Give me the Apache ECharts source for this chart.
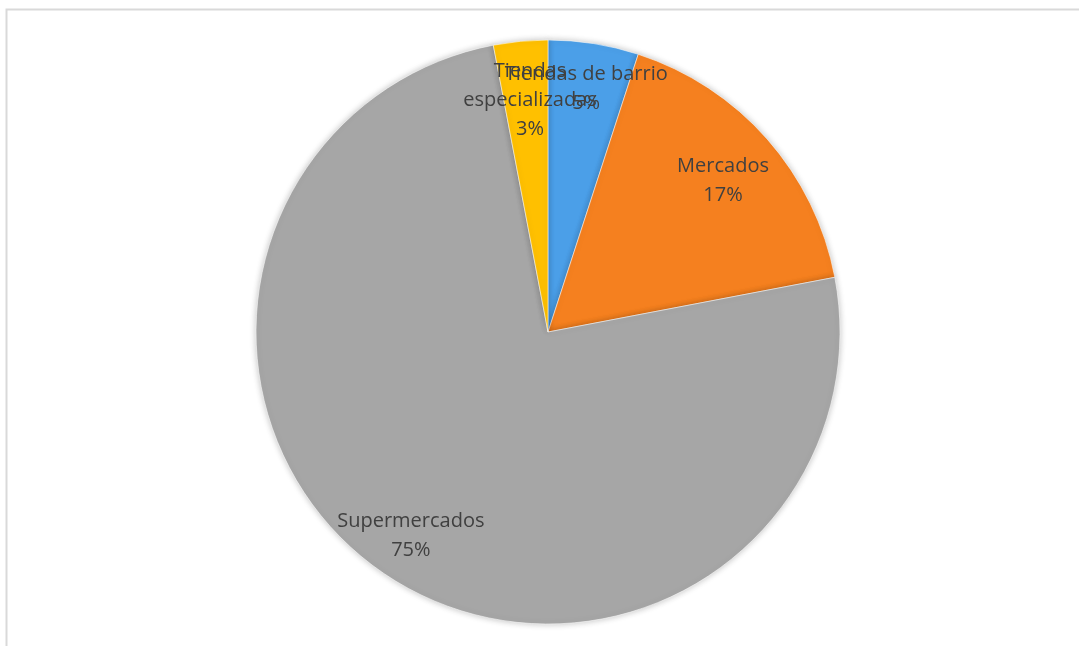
<!DOCTYPE html>
<html>
<head>
<meta charset="utf-8">
<script src="https://cdn.jsdelivr.net/npm/echarts@6/dist/echarts.min.js"></script>
<style>
  html, body { margin: 0; padding: 0; background: #ffffff; }
  #chart { width: 1079px; height: 646px; }
</style>
</head>
<body>
<div id="chart"></div>
<script>
// Share of purchases by type of store (percent)
const categories = ['Tiendas de barrio', 'Mercados', 'Supermercados', 'Tiendas especializadas'];
const shares = [5, 17, 75, 3];
const sliceColors = ['#4b9fe8', '#f5801f', '#a6a6a6', '#ffc000'];

const center = [548, 332];
const outerRadius = 292;

// Small hand nudges for the data labels (px)
const labelNudge = [[0, -2], [-8, 10], [0, 2], [5, 11]];

const pieData = categories.map((name, i) => ({
  name: name,
  value: shares[i],
  itemStyle: { color: sliceColors[i] }
}));

// Long names wrap onto two lines, like the chart's label boxes
const wrapName = name => name.length > 20 ? name.replace(' ', '\n') : name;

// Transparent ring that carries the labels, so they sit further out than the mid-radius
const labelData = categories.map((name, i) => ({
  name: name,
  value: shares[i]
}));

const chart = echarts.init(document.getElementById('chart'), null, { renderer: 'canvas' });

chart.setOption({
  backgroundColor: '#ffffff',
  animation: false,
  graphic: [{
    type: 'rect',
    shape: { x: 6.5, y: 9.5, width: 1200, height: 800 },
    style: { fill: 'none', stroke: '#d9d9d9', lineWidth: 2 },
    silent: true
  }],
  series: [
    {
      type: 'pie',
      center: center,
      radius: [0, outerRadius],
      startAngle: 90,
      clockwise: true,
      data: pieData,
      label: { show: false },
      labelLine: { show: false },
      itemStyle: {
        borderColor: 'rgba(255,255,255,0.55)',
        borderWidth: 1,
        shadowBlur: 6,
        shadowColor: 'rgba(0,0,0,0.25)'
      },
      emphasis: { disabled: true }
    },
    {
      type: 'pie',
      center: center,
      radius: [190, outerRadius],
      startAngle: 90,
      clockwise: true,
      silent: true,
      avoidLabelOverlap: false,
      minShowLabelAngle: 0,
      data: labelData,
      itemStyle: { color: 'rgba(0,0,0,0)' },
      label: {
        show: true,
        position: 'inside',
        formatter: p => wrapName(p.name) + '\n' + p.value + '%',
        fontFamily: 'Open Sans',
        fontSize: 20,
        lineHeight: 29,
        color: '#404040'
      },
      labelLayout: p => ({
        hideOverlap: false,
        dx: labelNudge[p.dataIndex][0],
        dy: labelNudge[p.dataIndex][1]
      }),
      labelLine: { show: false },
      emphasis: { disabled: true }
    }
  ]
});
</script>
</body>
</html>
